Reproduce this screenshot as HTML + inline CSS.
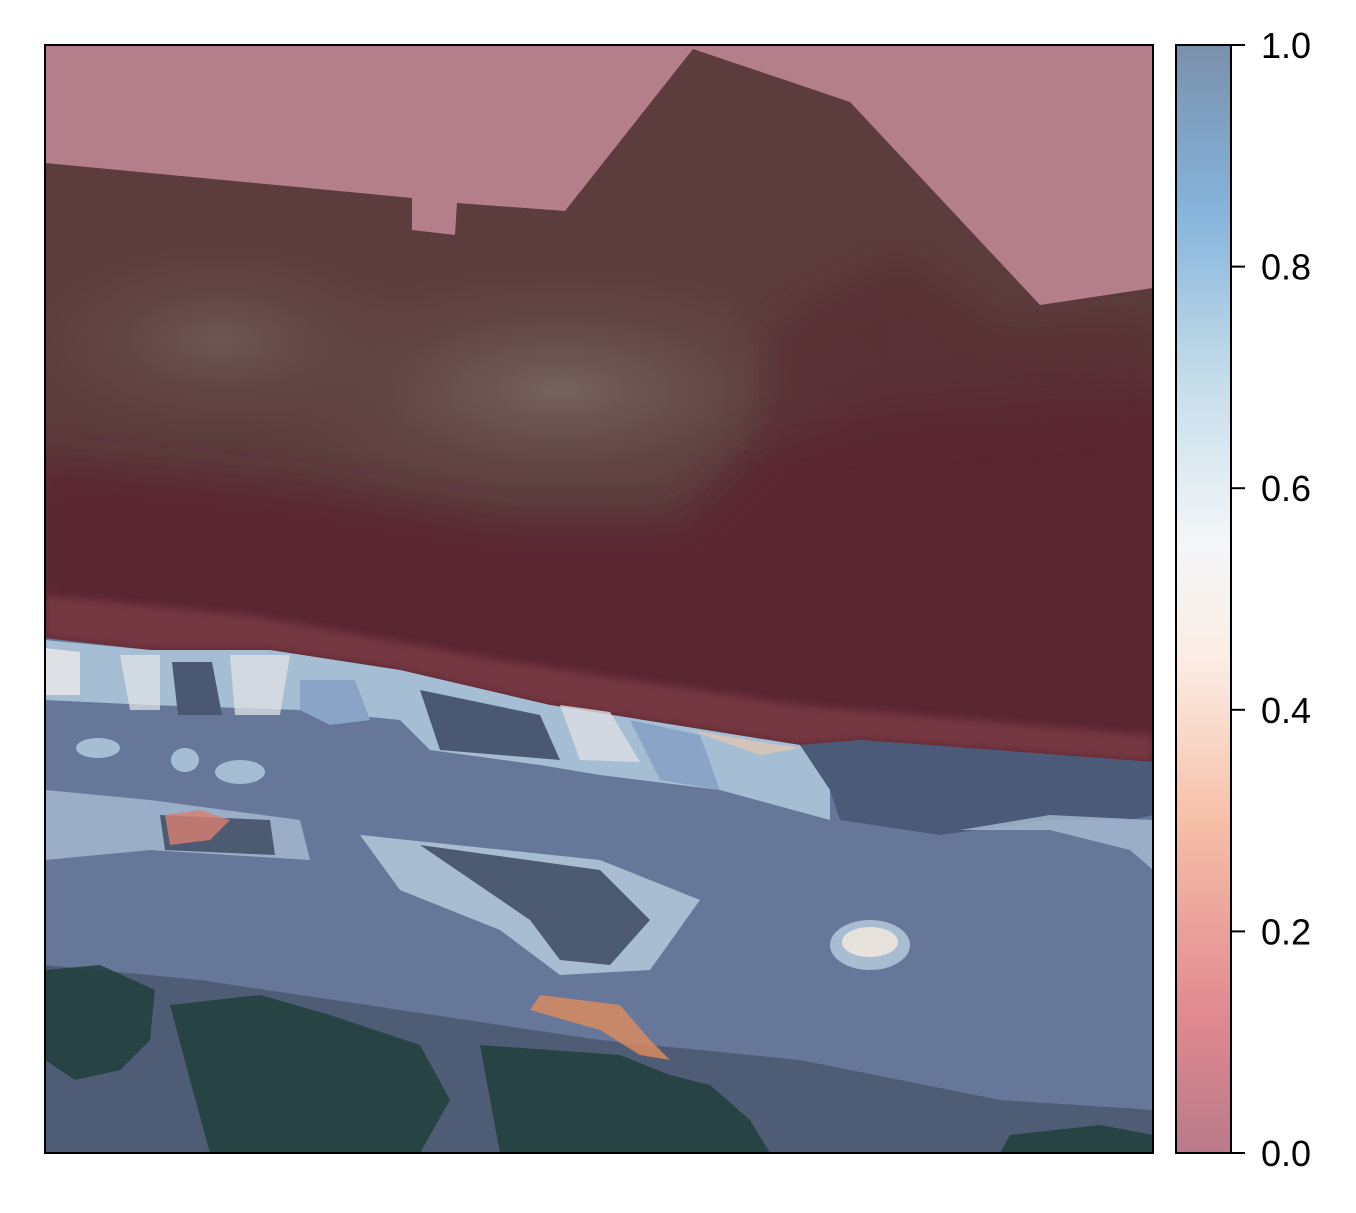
<!DOCTYPE html>
<html><head><meta charset="utf-8"><style>
body{margin:0;background:#fff;width:1356px;height:1208px;overflow:hidden;font-family:"Liberation Sans","DejaVu Sans",sans-serif}
</style></head><body>
<svg id="fig" width="1356" height="1208" xmlns="http://www.w3.org/2000/svg">
<defs>
<linearGradient id="cb" x1="0" y1="1" x2="0" y2="0">
<stop offset="0" stop-color="#b97a8a"/><stop offset="0.12" stop-color="#e08890"/>
<stop offset="0.3" stop-color="#f7bfa8"/><stop offset="0.45" stop-color="#fbeee6"/>
<stop offset="0.55" stop-color="#f4f6f8"/><stop offset="0.7" stop-color="#c4dcea"/>
<stop offset="0.85" stop-color="#85b4dc"/><stop offset="1" stop-color="#7a90ac"/>
</linearGradient>
<radialGradient id="glow" cx="0.5" cy="0.5" r="0.5">
<stop offset="0" stop-color="#766660" stop-opacity="0.95"/><stop offset="1" stop-color="#5a3c3c" stop-opacity="0"/>
</radialGradient>
<filter id="blur"><feGaussianBlur stdDeviation="18"/></filter>
<filter id="blur2"><feGaussianBlur stdDeviation="4"/></filter>
<clipPath id="ax"><rect x="45" y="45" width="1108" height="1108"/></clipPath>
<clipPath id="bld"><polygon points="45,163 412,198 412,230 455,235 457,203 565,211 693,49 850,102 1040,305 1153,288 1153,1153 45,1153"/></clipPath>
</defs>
<g clip-path="url(#ax)">
<rect x="45" y="45" width="1108" height="1108" fill="#b47e8a"/>
<g clip-path="url(#bld)">
<rect x="45" y="45" width="1108" height="1108" fill="#5c3c3c"/>
<ellipse cx="560" cy="390" rx="360" ry="150" fill="url(#glow)"/>
<ellipse cx="220" cy="340" rx="240" ry="120" fill="url(#glow)" opacity="0.7"/>
<polygon fill="#5a2630" filter="url(#blur)" points="20,455 300,485 500,520 680,520 760,440 880,400 1000,390 1200,380 1200,800 20,800"/>
<polygon fill="#582a30" opacity="0.6" filter="url(#blur)" points="760,330 900,260 1000,330 1153,320 1153,420 760,450"/>
</g>
<polygon fill="#763842" opacity="0.95" filter="url(#blur2)" points="45,595 250,615 500,660 800,705 1153,735 1153,762 860,740 800,745 550,705 400,670 270,650 150,650 45,638"/>
<polygon fill="#66779a" points="45,638 150,650 270,650 400,670 550,705 800,745 860,740 1153,762 1153,1153 45,1153"/>
<polygon fill="#a6bed4" points="45,640 150,650 270,650 400,670 550,705 800,745 830,780 830,820 720,790 600,775 540,765 430,750 400,720 300,710 150,705 45,700"/>
<polygon fill="#e6e6e8" opacity="0.85" points="45,648 80,652 80,695 45,695"/>
<polygon fill="#e6e6e8" opacity="0.7" points="120,655 160,655 160,710 130,710"/>
<polygon fill="#e0e2e6" opacity="0.75" points="230,655 290,655 280,715 235,715"/>
<polygon fill="#4a5874" points="172,662 212,662 222,715 178,715"/>
<polygon fill="#8aa4c8" points="300,680 355,680 370,720 330,725 300,710"/>
<polygon fill="#4a5874" points="420,690 540,715 560,760 440,750"/>
<polygon fill="#dcdee4" opacity="0.8" points="560,705 610,712 640,762 580,760"/>
<polygon fill="#8aa4c8" points="630,720 700,735 720,790 660,780"/>
<polygon fill="#e8c8b0" opacity="0.7" points="690,730 760,742 800,748 760,755"/>
<polygon fill="#4b5a78" points="800,745 860,740 1153,762 1153,815 1130,820 1050,820 940,835 840,820 830,790"/>
<polygon fill="#a8bcd2" opacity="0.8" points="960,830 1050,815 1153,820 1153,870 1130,850 1050,830"/>
<ellipse cx="98" cy="748" rx="22" ry="10" fill="#a6bed4"/>
<ellipse cx="185" cy="760" rx="14" ry="12" fill="#a6bed4"/>
<ellipse cx="240" cy="772" rx="25" ry="12" fill="#a6bed4"/>
<polygon fill="#a8bcd2" opacity="0.8" points="45,790 150,800 300,820 310,860 150,850 45,860"/>
<polygon fill="#4c5a72" points="160,815 270,820 275,855 165,850"/>
<polygon fill="#d88070" opacity="0.8" points="165,815 200,810 230,820 210,840 170,845"/>
<polygon fill="#a8bcd2" points="360,835 600,860 700,900 650,970 560,975 500,930 400,890"/>
<polygon fill="#4c5a72" points="420,845 600,870 650,920 610,965 560,960 530,920"/>
<ellipse cx="870" cy="945" rx="40" ry="25" fill="#a8bcd2"/>
<ellipse cx="870" cy="942" rx="28" ry="15" fill="#e8e2dc"/>
<polygon fill="#4e5c76" points="45,965 200,980 400,1010 600,1040 800,1060 1000,1100 1153,1110 1153,1153 45,1153"/>
<polygon fill="#25403f" opacity="0.9" points="45,970 100,965 155,990 150,1040 120,1070 75,1080 45,1060"/>
<polygon fill="#25403f" opacity="0.9" points="170,1005 260,995 330,1015 420,1045 450,1100 420,1153 210,1153 190,1080"/>
<polygon fill="#25403f" opacity="0.9" points="480,1045 620,1055 670,1075 710,1085 750,1120 770,1153 500,1153"/>
<polygon fill="#25403f" opacity="0.9" points="1010,1135 1100,1125 1153,1135 1153,1153 1000,1153"/>
<polygon fill="#d88a60" opacity="0.85" points="540,995 620,1005 650,1040 670,1060 640,1055 600,1030 530,1010"/>
</g>
<rect x="45" y="45" width="1108" height="1108" fill="none" stroke="#000" stroke-width="2"/>
<rect x="1176" y="45" width="55" height="1108" fill="url(#cb)" stroke="#000" stroke-width="2"/>
<g id="ticks"></g>
</svg>
<script>
const tickValues=[0,0.2,0.4,0.6,0.8,1.0];
const tickLabels=["0.0","0.2","0.4","0.6","0.8","1.0"];
const y0=1153,y1=45;
function yScale(v){return y0+(y1-y0)*v;}
const g=document.getElementById('ticks');
const ns="http://www.w3.org/2000/svg";
tickValues.forEach((v,i)=>{
const y=yScale(v);
const l=document.createElementNS(ns,'line');


l.setAttribute('x1',1231);l.setAttribute('x2',1245);l.setAttribute('y1',y);l.setAttribute('y2',y);
l.setAttribute('stroke','#000');l.setAttribute('stroke-width','2');
g.appendChild(l);
const t=document.createElementNS(ns,'text');


t.setAttribute('x',1261);t.setAttribute('y',y+13);
t.setAttribute('font-size','36');t.setAttribute('fill','#000');
t.textContent=tickLabels[i];
g.appendChild(t);
});
</script>
</body></html>
